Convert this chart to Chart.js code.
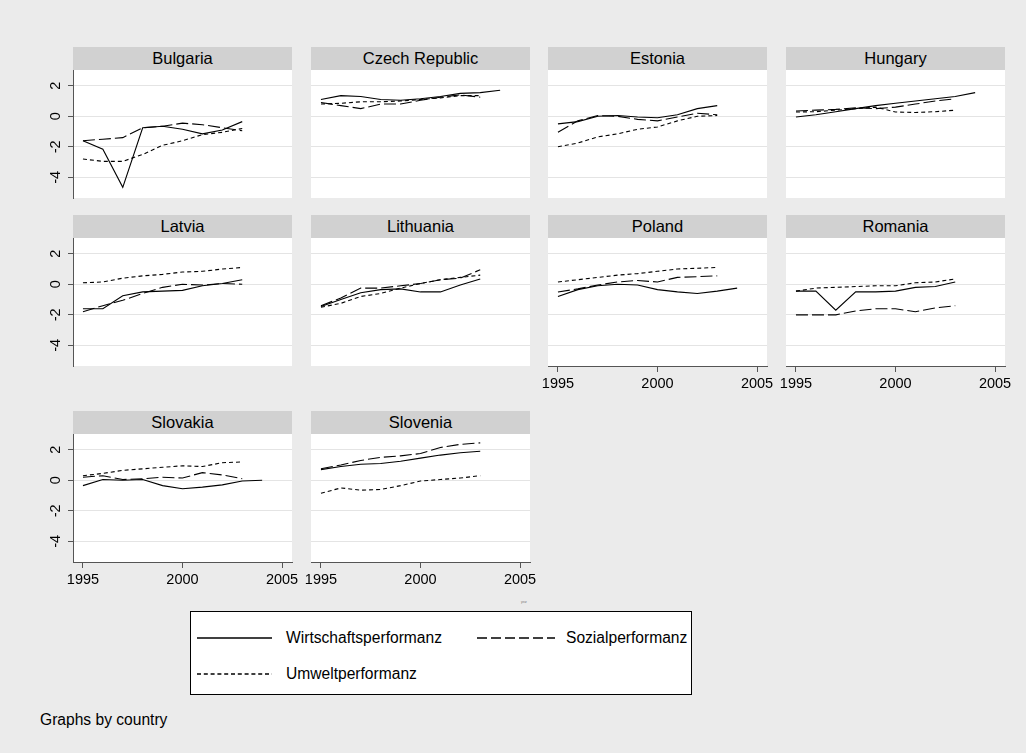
<!DOCTYPE html>
<html>
<head>
<meta charset="utf-8">
<script src="https://cdn.jsdelivr.net/npm/chart.js@4.4.1/dist/chart.umd.min.js"></script>
<style>
  html, body { margin: 0; padding: 0; background: #ebebeb; }
  #page { position: relative; width: 1026px; height: 753px; overflow: hidden;
          font-family: "Liberation Sans", Arial, sans-serif; color: #000; }
  .strip { position: absolute; height: 23px; line-height: 23px; background: #d1d1d1;
           text-align: center; font-size: 16.5px; white-space: nowrap; }
  canvas { position: absolute; }
  #legend { position: absolute; left: 190px; top: 611px; width: 500px; height: 82px;
            border: 1px solid #000; background: #fff; }
  .ltxt { position: absolute; font-size: 15.6px; line-height: 18px; white-space: nowrap; }
  svg.key { position: absolute; overflow: visible; }
  #note { position: absolute; left: 40px; top: 711px; font-size: 15.6px; line-height: 18px; }
  #xtitle { position: absolute; left: 521px; top: 600px; font-size: 3px; line-height: 4px; color: #777; }
</style>
</head>
<body>
<div id="page">
  <div id="legend"></div>
  <div id="note">Graphs by country</div>
  <div id="xtitle">year</div>
</div>
<script>
// Years on the horizontal axis
const years = [1995, 1996, 1997, 1998, 1999, 2000, 2001, 2002, 2003, 2004];
const countries = ['Bulgaria', 'Czech Republic', 'Estonia', 'Hungary', 'Latvia',
                   'Lithuania', 'Poland', 'Romania', 'Slovakia', 'Slovenia'];
const seriesNames = ['Wirtschaftsperformanz', 'Sozialperformanz', 'Umweltperformanz'];
const xTickValues = [1995, 2000, 2005];
const yTickValues = [-4, -2, 0, 2];

// Performance indices per country: W = Wirtschaft, S = Sozial, U = Umwelt
const bulgariaW = [-1.6, -2.15, -4.65, -0.75, -0.65, -0.85, -1.15, -0.9, -0.35, null];
const bulgariaS = [-1.6, -1.5, -1.4, -0.75, -0.65, -0.45, -0.55, -0.75, -0.95, null];
const bulgariaU = [-2.8, -2.95, -2.95, -2.5, -1.9, -1.6, -1.2, -1.05, -0.8, null];

const czechW = [1.1, 1.35, 1.3, 1.1, 1.05, 1.15, 1.3, 1.5, 1.55, 1.7];
const czechS = [0.9, 0.7, 0.5, 0.8, 0.8, 1.05, 1.25, 1.4, 1.25, null];
const czechU = [0.8, 0.85, 0.95, 0.95, 1.0, 1.1, 1.2, 1.35, 1.35, null];

const estoniaW = [-0.5, -0.35, 0.0, 0.05, -0.05, -0.1, 0.1, 0.5, 0.7, null];
const estoniaS = [-1.05, -0.3, 0.05, 0.0, -0.2, -0.3, -0.05, 0.2, 0.1, null];
const estoniaU = [-2.0, -1.75, -1.35, -1.15, -0.85, -0.7, -0.3, 0.0, 0.05, null];

const hungaryW = [-0.05, 0.1, 0.3, 0.5, 0.7, 0.85, 1.0, 1.15, 1.3, 1.55];
const hungaryS = [0.35, 0.4, 0.45, 0.55, 0.5, 0.6, 0.8, 1.0, 1.15, null];
const hungaryU = [0.28, 0.3, 0.4, 0.5, 0.6, 0.28, 0.25, 0.3, 0.4, null];

const latviaW = [-1.6, -1.6, -0.75, -0.5, -0.45, -0.4, -0.1, 0.05, 0.3, null];
const latviaS = [-1.8, -1.4, -1.05, -0.6, -0.2, 0.0, -0.05, 0.05, 0.0, null];
const latviaU = [0.1, 0.15, 0.4, 0.55, 0.65, 0.8, 0.85, 1.0, 1.1, null];

const lithuaniaW = [-1.45, -1.0, -0.55, -0.35, -0.3, -0.5, -0.5, -0.05, 0.35, null];
const lithuaniaS = [-1.4, -0.9, -0.25, -0.25, -0.1, 0.05, 0.3, 0.4, 0.95, null];
const lithuaniaU = [-1.5, -1.25, -0.8, -0.6, -0.25, 0.05, 0.3, 0.45, 0.6, null];

const polandW = [-0.8, -0.35, -0.1, 0.0, -0.05, -0.35, -0.5, -0.6, -0.45, -0.25];
const polandS = [-0.5, -0.3, -0.05, 0.15, 0.25, 0.15, 0.45, 0.5, 0.55, null];
const polandU = [0.15, 0.3, 0.45, 0.6, 0.7, 0.85, 1.0, 1.05, 1.1, null];

const romaniaW = [-0.45, -0.45, -1.7, -0.5, -0.5, -0.45, -0.2, -0.15, 0.15, null];
const romaniaS = [-2.0, -2.0, -2.0, -1.75, -1.6, -1.6, -1.8, -1.55, -1.4, null];
const romaniaU = [-0.45, -0.25, -0.2, -0.15, -0.1, -0.1, 0.1, 0.15, 0.35, null];

const slovakiaW = [-0.35, 0.05, 0.0, 0.05, -0.35, -0.55, -0.45, -0.3, -0.05, 0.0];
const slovakiaS = [0.2, 0.3, 0.05, 0.1, 0.2, 0.15, 0.5, 0.35, 0.1, null];
const slovakiaU = [0.3, 0.45, 0.65, 0.75, 0.85, 0.95, 0.9, 1.15, 1.2, null];

const sloveniaW = [0.7, 0.9, 1.05, 1.1, 1.25, 1.45, 1.65, 1.8, 1.9, null];
const sloveniaS = [0.75, 1.0, 1.3, 1.5, 1.6, 1.75, 2.15, 2.35, 2.45, null];
const sloveniaU = [-0.85, -0.5, -0.65, -0.6, -0.35, -0.05, 0.05, 0.15, 0.3, null];

const panelSeries = [
  [bulgariaW, bulgariaS, bulgariaU], [czechW, czechS, czechU],
  [estoniaW, estoniaS, estoniaU], [hungaryW, hungaryS, hungaryU],
  [latviaW, latviaS, latviaU], [lithuaniaW, lithuaniaS, lithuaniaU],
  [polandW, polandS, polandU], [romaniaW, romaniaS, romaniaU],
  [slovakiaW, slovakiaS, slovakiaU], [sloveniaW, sloveniaS, sloveniaU]
];

// Line patterns: solid, long dash, short dash
const panelDash = [[], [12, 4], [4, 3]];
const keyDash = ['', '10 4', '4 2.8'];

// Panel geometry
const FONT = '"Liberation Sans", Arial, sans-serif';
const colLeft = [73, 311, 548, 786];
const rowTop = [70, 238, 434];
const plotW = 219, plotH = 128, PAD = 12, Y_AXIS_W = 40, X_AXIS_H = 36;
const axisColor = '#555555';

const page = document.getElementById('page');

const plotBackground = {
  id: 'plotBackground',
  beforeDraw(chart) {
    const a = chart.chartArea, ctx = chart.ctx;
    ctx.save();
    ctx.fillStyle = '#ffffff';
    ctx.fillRect(a.left, a.top, a.right - a.left, a.bottom - a.top);
    ctx.restore();
  }
};

function makePanel(i) {
  const col = i % 4, row = Math.floor(i / 4);
  const hasY = col === 0, hasX = i >= 6;
  const padL = hasY ? 0 : PAD, yW = hasY ? Y_AXIS_W : 0;

  const strip = document.createElement('div');
  strip.className = 'strip';
  strip.style.left = colLeft[col] + 'px';
  strip.style.top = (rowTop[row] - 23) + 'px';
  strip.style.width = plotW + 'px';
  strip.textContent = countries[i];
  page.appendChild(strip);

  const w = yW + padL + plotW + PAD;
  const h = PAD + plotH + (hasX ? X_AXIS_H : PAD);
  const cv = document.createElement('canvas');
  cv.width = w; cv.height = h;
  cv.style.width = w + 'px'; cv.style.height = h + 'px';
  cv.style.left = (colLeft[col] - yW - padL) + 'px';
  cv.style.top = (rowTop[row] - PAD) + 'px';
  page.appendChild(cv);

  const datasets = panelSeries[i].map((vals, k) => ({
    label: seriesNames[k],
    data: years.map((yr, j) => ({ x: yr, y: vals[j] })),
    borderColor: '#000000',
    borderWidth: 1.1,
    borderDash: panelDash[k],
    pointRadius: 0,
    tension: 0,
    fill: false,
    spanGaps: false
  }));

  new Chart(cv, {
    type: 'line',
    data: { datasets },
    options: {
      responsive: false,
      animation: false,
      devicePixelRatio: 1,
      layout: { padding: { left: padL, right: PAD, top: PAD, bottom: hasX ? 0 : PAD } },
      plugins: { legend: { display: false }, tooltip: { enabled: false }, title: { display: false } },
      scales: {
        x: {
          type: 'linear', min: 1994.5, max: 2005.5, display: hasX,
          afterBuildTicks: s => { s.ticks = xTickValues.map(v => ({ value: v })); },
          afterFit: s => {
            s.height = hasX ? X_AXIS_H : 0;
            s.paddingLeft = 0; s.paddingRight = 0;
          },
          grid: { display: true, drawOnChartArea: false, drawTicks: true, tickLength: 6,
                  tickColor: axisColor, tickWidth: 1 },
          border: { display: true, color: axisColor, width: 1 },
          ticks: { color: '#000', font: { family: FONT, size: 14.5 }, padding: 3,
                   maxRotation: 0, minRotation: 0, autoSkip: false, callback: v => String(v) }
        },
        y: {
          type: 'linear', min: -5.35, max: 3.03, display: true,
          afterBuildTicks: s => { s.ticks = yTickValues.map(v => ({ value: v })); },
          afterFit: s => { s.width = yW; s.paddingTop = 0; s.paddingBottom = 0; },
          grid: { color: '#e4e4e4', lineWidth: 1, drawTicks: hasY, tickLength: 5,
                  tickColor: axisColor, tickWidth: 1 },
          border: { display: hasY, color: axisColor, width: 1 },
          ticks: { display: hasY, minRotation: 90, maxRotation: 90, crossAlign: 'center',
                   padding: 6, color: '#000', font: { family: FONT, size: 14.5 },
                   callback: v => String(v) }
        }
      }
    },
    plugins: [plotBackground]
  });
}

for (let i = 0; i < countries.length; i++) makePanel(i);

// Legend box with line keys
const legendItems = [
  { k: 0, x1: 197, x2: 272, y: 638, tx: 286 },
  { k: 1, x1: 477, x2: 555, y: 638, tx: 566 },
  { k: 2, x1: 197, x2: 272, y: 674, tx: 286 }
];
const NS = 'http://www.w3.org/2000/svg';
legendItems.forEach(it => {
  const svg = document.createElementNS(NS, 'svg');
  svg.setAttribute('class', 'key');
  svg.setAttribute('width', it.x2 - it.x1);
  svg.setAttribute('height', 4);
  svg.style.left = it.x1 + 'px';
  svg.style.top = (it.y - 2) + 'px';
  const ln = document.createElementNS(NS, 'line');
  ln.setAttribute('x1', 0); ln.setAttribute('x2', it.x2 - it.x1);
  ln.setAttribute('y1', 2); ln.setAttribute('y2', 2);
  ln.setAttribute('stroke', '#000'); ln.setAttribute('stroke-width', 1.7);
  if (keyDash[it.k]) ln.setAttribute('stroke-dasharray', keyDash[it.k]);
  svg.appendChild(ln);
  page.appendChild(svg);
  const t = document.createElement('div');
  t.className = 'ltxt';
  t.style.left = it.tx + 'px';
  t.style.top = (it.y - 9) + 'px';
  t.textContent = seriesNames[it.k];
  page.appendChild(t);
});
</script>
</body>
</html>
